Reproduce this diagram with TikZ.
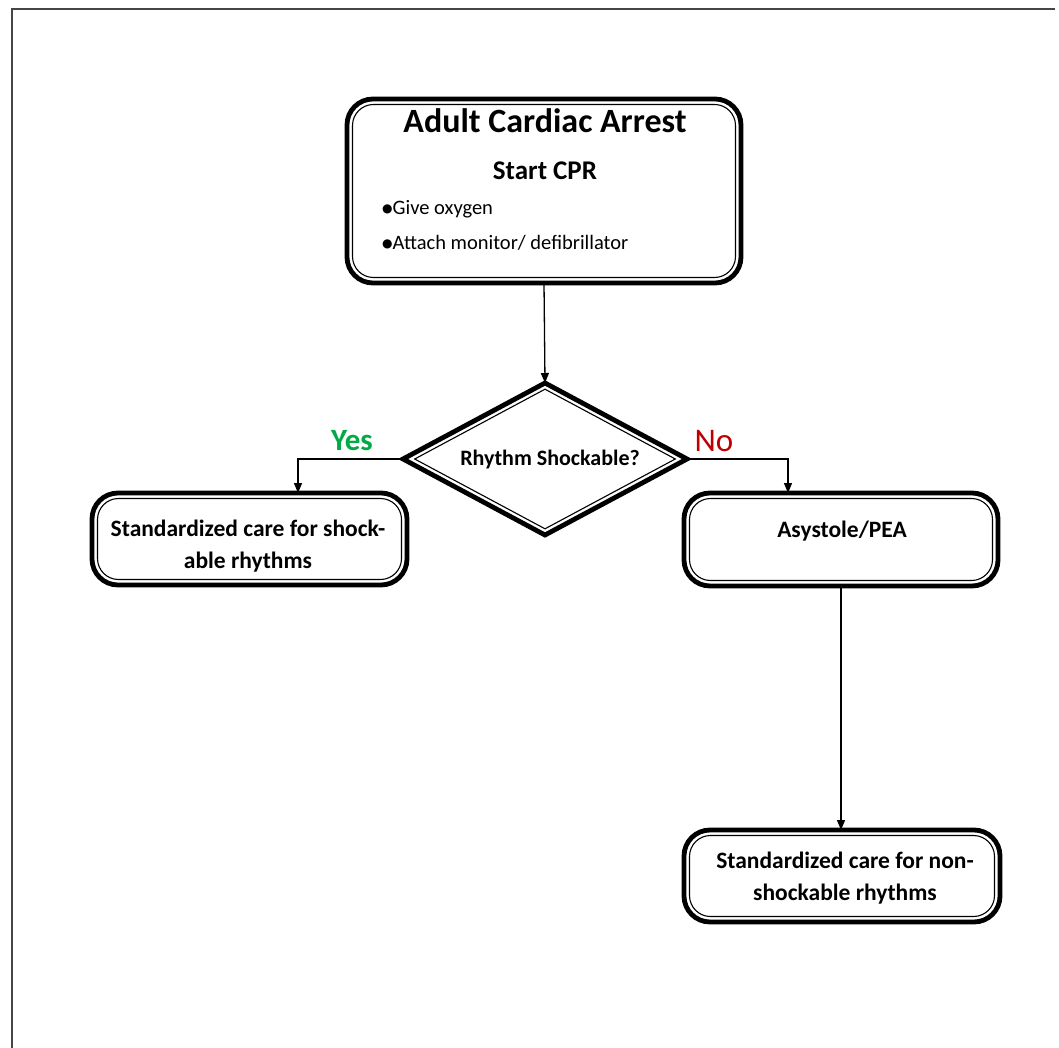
\documentclass[tikz,border=0pt]{standalone}
\usepackage{fontspec}
\setmainfont{Carlito}
\newfontfamily\symfont{DejaVu Sans}
\usetikzlibrary{shapes.geometric,arrows.meta,calc}
\definecolor{yesgreen}{RGB}{0,170,70}
\definecolor{nored}{RGB}{192,0,0}
\definecolor{framegray}{RGB}{70,70,70}
\newcommand{\mybullet}{\raisebox{2pt}{\symfont\fontsize{12}{14}\selectfont ●}}
\begin{document}
\begin{tikzpicture}[x=1pt,y=-1pt,
  box/.style={draw, line width=4.8pt, rounded corners=26pt, inner sep=0pt, outer sep=0pt},
  innerline/.style={line width=1.1pt, rounded corners=21pt},
  arr/.style={-{Triangle[length=10pt,width=8pt]}, line width=1.3pt},
  boxtext/.style={align=center, inner sep=0pt, font=\bfseries\fontsize{23.5}{32}\selectfont},
  bullet/.style={anchor=west, inner sep=0pt, font=\fontsize{20.5}{24}\selectfont}]
\useasboundingbox (0,0) rectangle (1059,1048);
\fill[white] (0,0) rectangle (1059,1048);
% page frame
\draw[framegray, line width=2.5pt] (1055,9) -- (12,9) -- (12,1048);

% top box
\node[box, minimum width=394, minimum height=184] (start) at (544,191) {};
\draw[innerline] ($(start.north west)+(5.5,5.5)$) rectangle ($(start.south east)+(-5.5,-5.5)$);
\node[font=\bfseries\fontsize{34}{38}\selectfont] (title) at (545,121) {Adult Cardiac Arrest};
\node[font=\bfseries\fontsize{27}{30}\selectfont] (cpr) at (545,171) {Start CPR};
\node[bullet] (b1) at (382,209) {\mybullet Give oxygen};
\node[bullet] (b2) at (382,243) {\mybullet Attach monitor/ defibrillator};

% decision
\node[draw, diamond, line width=4.8pt, minimum width=284, minimum height=152, aspect=1.87,
  inner sep=0pt, outer sep=0pt] (dec) at (545,459) {};
\draw[line width=1.1pt] ($(dec.north)+(0,6.2)$) -- ($(dec.east)+(-11.7,0)$) -- ($(dec.south)+(0,-6.2)$) -- ($(dec.west)+(11.7,0)$) -- cycle;
\node[font=\bfseries\fontsize{22}{26}\selectfont, inner sep=0pt] (dectext) at (550,460) {Rhythm Shockable?};

% outcome boxes
\node[box, minimum width=315, minimum height=92] (lbox) at (249.5,539) {};
\draw[innerline] ($(lbox.north west)+(5.5,5.5)$) rectangle ($(lbox.south east)+(-5.5,-5.5)$);
\node[boxtext] (ltext) at (248,546) {Standardized care for shock-\\able rhythms};

\node[box, minimum width=314, minimum height=93] (rbox) at (841,539.5) {};
\draw[innerline] ($(rbox.north west)+(5.5,5.5)$) rectangle ($(rbox.south east)+(-5.5,-5.5)$);
\node[boxtext] (rtext) at (842,531) {Asystole/PEA};

\node[box, minimum width=316, minimum height=92] (bbox) at (842,876) {};
\draw[innerline] ($(bbox.north west)+(5.5,5.5)$) rectangle ($(bbox.south east)+(-5.5,-5.5)$);
\node[boxtext] (btext) at (845,878) {Standardized care for non-\\shockable rhythms};

% connectors
\draw[arr] (start.south) -- (dec.north);
\draw[arr] (dec.west) -| ([xshift=48.5pt]lbox.north);
\draw[arr] (dec.east) -| ([xshift=-53pt]rbox.north);
\draw[arr] (rbox.south) -- (rbox.south |- bbox.north);

% labels
\node[font=\bfseries\fontsize{31}{34}\selectfont, text=yesgreen, inner sep=0pt] (yes) at (352,441) {Yes};
\node[font=\fontsize{33}{36}\selectfont, text=nored, inner sep=0pt] (no) at (714,441) {No};
\end{tikzpicture}
\end{document}
